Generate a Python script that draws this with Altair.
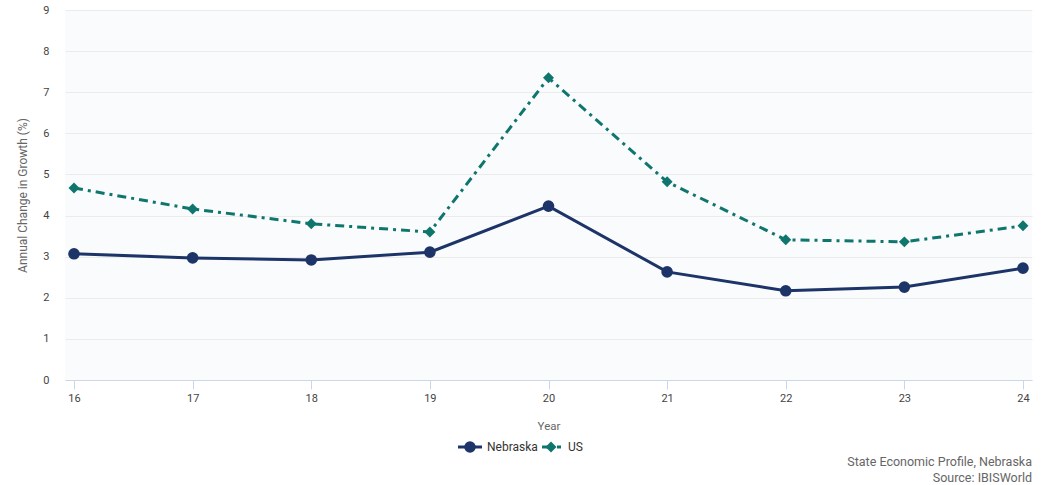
import altair as alt
import pandas as pd

years = [16, 17, 18, 19, 20, 21, 22, 23, 24]
nebraska = [3.07, 2.97, 2.92, 3.11, 4.23, 2.63, 2.17, 2.26, 2.72]
us = [4.67, 4.16, 3.80, 3.60, 7.35, 4.82, 3.41, 3.36, 3.75]
series_names = ["Nebraska", "US"]
colors = ["#1c3467", "#0f766e"]
credits = ["State Economic Profile, Nebraska", "Source: IBISWorld"]

FONT = "Roboto"

neb_df = pd.DataFrame({"Year": years, "Value": nebraska, "Series": series_names[0]})
us_df = pd.DataFrame({"Year": years, "Value": us, "Series": series_names[1]})

x = alt.X(
    "Year:Q",
    scale=alt.Scale(domain=[15.924, 24.076], nice=False, zero=False),
    axis=alt.Axis(
        values=years, title="Year", grid=False, format="d",
        domainColor="#ccd6eb", tickColor="#ccd6eb", tickSize=9,
        labelPadding=3, labelFontSize=11, labelColor="#444444",
        titleFontSize=11.5, titleColor="#666666", titleFontWeight="normal",
        titlePadding=17, labelFont=FONT, titleFont=FONT,
    ),
)
y = alt.Y(
    "Value:Q",
    scale=alt.Scale(domain=[0, 9], nice=False),
    axis=alt.Axis(
        values=list(range(10)), title="Annual Change in Growth (%)",
        domain=False, ticks=False, gridColor="#ebebeb",
        labelPadding=16, labelFontSize=11, labelColor="#444444",
        titleFontSize=12, titleColor="#666666", titleFontWeight="normal",
        titlePadding=13, labelFont=FONT, titleFont=FONT,
    ),
)

neb_line = alt.Chart(neb_df).mark_line(color=colors[0], strokeWidth=3).encode(x=x, y=y)
neb_pts = alt.Chart(neb_df).mark_point(
    shape="circle", filled=True, color=colors[0], size=135, opacity=1
).encode(x=x, y=y)
us_line = alt.Chart(us_df).mark_line(
    color=colors[1], strokeWidth=3, strokeDash=[9, 5, 3, 5]
).encode(x=x, y=y)
us_pts = alt.Chart(us_df).mark_point(
    shape="diamond", filled=True, color=colors[1], size=120, opacity=1
).encode(x=x, y=y)

# Manual legend
leg_base = alt.Chart(pd.DataFrame({"a": [0]}))
leg_neb_rule = leg_base.mark_rule(color=colors[0], strokeWidth=3).encode(
    x=alt.value(393), x2=alt.value(417), y=alt.value(437))
leg_neb_pt = leg_base.mark_point(shape="circle", filled=True, color=colors[0], size=135, opacity=1).encode(
    x=alt.value(405), y=alt.value(437))
leg_neb_txt = leg_base.mark_text(text=series_names[0], align="left", baseline="middle",
                                 font=FONT, fontSize=12, color="#333333").encode(
    x=alt.value(422), y=alt.value(437))
leg_us_rule = leg_base.mark_rule(color=colors[1], strokeWidth=3, strokeDash=[7, 3, 2, 3]).encode(
    x=alt.value(477), x2=alt.value(496), y=alt.value(437))
leg_us_pt = leg_base.mark_point(shape="diamond", filled=True, color=colors[1], size=120, opacity=1).encode(
    x=alt.value(486), y=alt.value(437))
leg_us_txt = leg_base.mark_text(text=series_names[1], align="left", baseline="middle",
                                font=FONT, fontSize=12, color="#333333").encode(
    x=alt.value(503), y=alt.value(437))

cred1 = leg_base.mark_text(text=credits[0], align="right", baseline="middle",
                           font=FONT, fontSize=12.5, color="#666666").encode(
    x=alt.value(967), y=alt.value(452))
cred2 = leg_base.mark_text(text=credits[1], align="right", baseline="middle",
                           font=FONT, fontSize=12.5, color="#666666").encode(
    x=alt.value(967), y=alt.value(468))

chart = alt.layer(
    neb_line, us_line, neb_pts, us_pts,
    leg_neb_rule, leg_neb_pt, leg_neb_txt, leg_us_rule, leg_us_pt, leg_us_txt,
    cred1, cred2,
).properties(
    width=967, height=370,
    autosize=alt.AutoSizeParams(type="none"),
    padding={"left": 65, "top": 10, "right": 10, "bottom": 105},
    background="white",
).configure_view(
    fill="#fafbfc", stroke=None
)

chart.save("out.html", embed_options={"renderer": "svg", "actions": False})
